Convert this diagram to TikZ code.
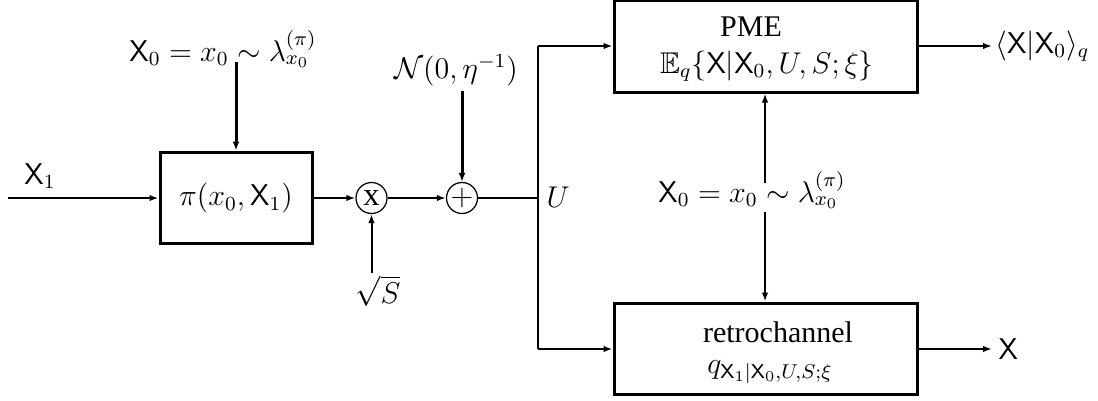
\documentclass[tikz,border=0pt]{standalone}
\usepackage{amssymb}
\usepackage[no-math]{fontspec}
\newfontfamily\tms{Liberation Serif}
\usetikzlibrary{arrows.meta}
\begin{document}
\begin{tikzpicture}[x=0.4pt,y=-0.4pt,
  mfont/.style={font=\fontsize{12}{14}\selectfont},
  tfont/.style={font=\tms\fontsize{12}{14}\selectfont},
  blockbox/.style={draw,line width=1.2pt,inner sep=0pt},
  opcircle/.style={draw,circle,line width=0.5pt,inner sep=0pt,minimum size=12.4pt,font=\fontsize{12}{14}\selectfont},
  conn/.style={line width=0.8pt},
  arr/.style={conn,-{Latex[length=3.6pt,width=2.6pt]}},
  thickarr/.style={line width=1.2pt,-{Latex[length=3.6pt,width=2.8pt]}},
  lbl/.style={inner sep=0pt,mfont}]
\useasboundingbox (0,0) rectangle (1098,400);
% blocks
\node[blockbox,minimum width=60.8pt,minimum height=36.4pt] (pibox) at (236,197.5) {};
\node[lbl] (pitext) at (236,198) {$\pi(x_0,\mathsf{X}_1)$};
\node[opcircle] (mult) at (371.5,198) {{\tms\fontsize{13}{14}\selectfont x}};
\node[opcircle] (plus) at (462,198) {$+$};
\node[blockbox,minimum width=121.2pt,minimum height=36.4pt] (pme) at (765.5,46.5) {};
\node[blockbox,minimum width=121.2pt,minimum height=36.4pt] (retro) at (765.5,348.5) {};
% block texts
\node[inner sep=0pt,tfont] (pmet) at (751,27) {PME};
\node[lbl] (pmem) at (767,66) {$\mathbb{E}_q\{\mathsf{X}|\mathsf{X}_0,U,S;\xi\}$};
\node[inner sep=0pt,tfont] (retrot) at (778,332) {retrochannel};
\node[lbl] (retrom) at (770,372) {$q_{\mathsf{X}_1|\mathsf{X}_0,U,S;\xi}$};
% labels
\node[lbl] (x1lab) at (40,176) {$\mathsf{X}_1$};
\node[lbl] (toplab) at (223,49) {$\mathsf{X}_0 = x_0 \sim \lambda^{(\pi)}_{x_0}$};
\node[lbl] (noise) at (456,70) {$\mathcal{N}(0,\eta^{-1})$};
\node[lbl] (sqrts) at (378,291) {$\sqrt{S}$};
\node[lbl,anchor=west] (ulab) at (546,197) {$U$};
\node[lbl] (midlab) at (752,190) {$\mathsf{X}_0 = x_0 \sim \lambda^{(\pi)}_{x_0}$};
\node[lbl,anchor=west] (outq) at (995,46) {$\langle\mathsf{X}|\mathsf{X}_0\rangle_q$};
\node[lbl,anchor=west] (outx) at (998,349) {$\mathsf{X}$};
% coordinates
\coordinate (inA) at (7.5,198);
\coordinate (topA) at (236,62);
\coordinate (noiseA) at (462,91);
\coordinate (sA) at (371.5,273);
\coordinate (split) at (538,198);
\coordinate (splitT) at (538,46);
\coordinate (splitB) at (538,349);
\coordinate (endQ) at (992,46);
\coordinate (endX) at (992,349);
\coordinate (midT) at (765,183);
\coordinate (midB) at (765,212);
% connectors
\draw[arr] (inA) -- (inA -| pibox.west);
\draw[thickarr] (topA) -- (topA |- pibox.north);
\draw[arr] (pibox.east |- mult.west) -- (mult.west);
\draw[arr] (sA) -- (mult.south);
\draw[arr] (mult.east) -- (plus.west);
\draw[thickarr] (noiseA) -- (plus.north);
\draw[conn] (plus.east) -- (split);
\draw[conn] (splitT) -- (splitB);
\draw[arr] (splitT) -- (pme.west |- splitT);
\draw[arr] (splitB) -- (retro.west |- splitB);
\draw[arr] (pme.east |- endQ) -- (endQ);
\draw[arr] (retro.east |- endX) -- (endX);
\draw[arr] (midT) -- (midT |- pme.south);
\draw[arr] (midB) -- (midB |- retro.north);
\end{tikzpicture}
\end{document}
